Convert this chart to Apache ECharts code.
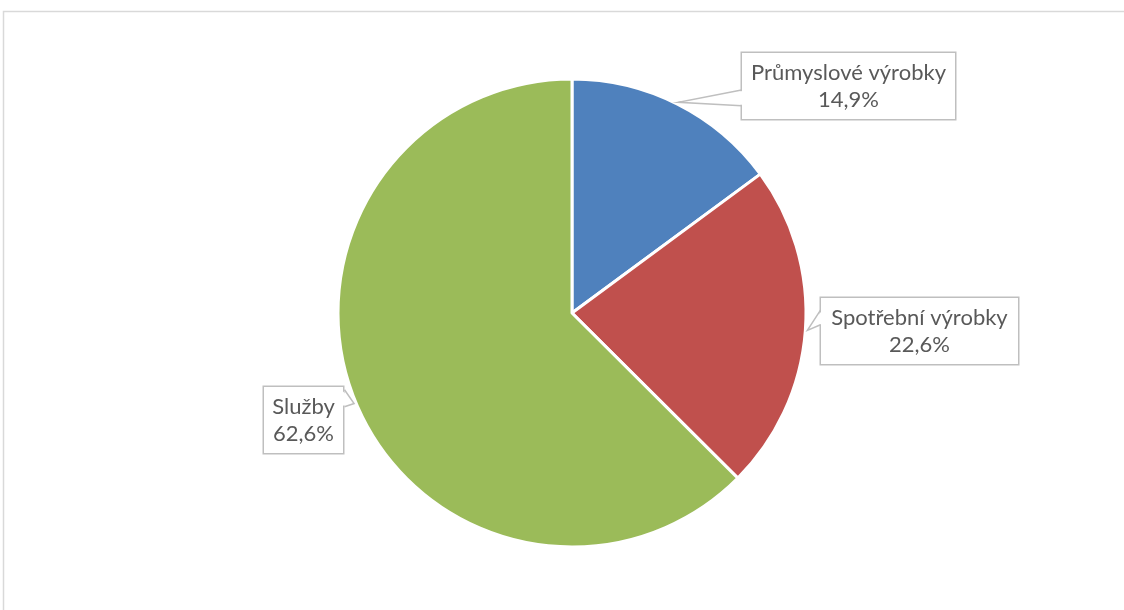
<!DOCTYPE html>
<html>
<head>
<meta charset="utf-8">
<script src="https://cdn.jsdelivr.net/npm/echarts@6/dist/echarts.min.js"></script>
<style>
  html, body { margin: 0; padding: 0; background: #fff; }
  #chart { width: 1124px; height: 610px; }
</style>
</head>
<body>
<div id="chart"></div>
<script>
// Shares of the three sectors (percent)
const categories = ['Průmyslové výrobky', 'Spotřební výrobky', 'Služby'];
const shares = [14.9, 22.6, 62.6];
const colors = ['#4F81BD', '#C0504D', '#9BBB59'];

// Pie geometry
const CX = 572, CY = 313, R = 234;

// Callout boxes: top-left corner, size, side carrying the pointer and
// where the pointer base sits along that side (fractions of box height)
const boxes = [
  { x: 741, y: 53,  w: 215, h: 66, side: 'left',  b0: 0.56, b1: 0.80 },
  { x: 820, y: 298, w: 199, h: 67, side: 'left',  b0: 0.18, b1: 0.40 },
  { x: 263, y: 387, w: 81,  h: 68, side: 'right', b0: 0.04, b1: 0.29 }
];

const LINE_H = 27;
const fmtPct = v => v.toFixed(1).replace('.', ',') + '%';

const total = shares.reduce((a, b) => a + b, 0);

// Pointer wedges: tip at the slice's mid-angle on the rim, base on the box side
const wedges = [];
let cum = 0;
shares.forEach((v, i) => {
  const mid = -Math.PI / 2 + 2 * Math.PI * (cum + v / 2) / total;
  cum += v;
  const tip = [CX + (R + 2) * Math.cos(mid), CY + (R + 2) * Math.sin(mid)];
  const b = boxes[i];
  const ex = b.side === 'left' ? b.x : b.x + b.w;
  const inset = b.side === 'left' ? 1.6 : -1.6;
  const y0 = b.y + b.h * b.b0, y1 = b.y + b.h * b.b1;
  // white fill hides the box border under the pointer base
  wedges.push({
    type: 'polygon',
    z: 100,
    silent: true,
    shape: { points: [[ex + inset, y0 + 1], tip, [ex + inset, y1 - 1]] },
    style: { fill: '#fff', stroke: null }
  });
  wedges.push({
    type: 'polyline',
    z: 101,
    silent: true,
    shape: { points: [[ex + 0.5, y0], tip, [ex + 0.5, y1]] },
    style: { stroke: '#BFBFBF', lineWidth: 1.5, fill: null }
  });
});

const seriesData = categories.map((name, i) => ({
  name,
  value: shares[i],
  itemStyle: { color: colors[i] },
  label: { width: boxes[i].w - 2 }
}));

const chart = echarts.init(document.getElementById('chart'), null, { renderer: 'canvas' });
chart.setOption({
  animation: false,
  backgroundColor: '#fff',
  graphic: [
    {
      type: 'rect',
      z: 0,
      silent: true,
      shape: { x: 3.5, y: 11.5, width: 1300, height: 800 },
      style: { fill: null, stroke: '#D9D9D9', lineWidth: 1.5 }
    },
    ...wedges
  ],
  series: [{
    type: 'pie',
    center: [CX, CY],
    radius: R,
    startAngle: 90,
    clockwise: true,
    avoidLabelOverlap: false,
    data: seriesData,
    itemStyle: { borderColor: '#fff', borderWidth: 3 },
    emphasis: { disabled: true },
    labelLine: { show: false },
    label: {
      show: true,
      position: 'outside',
      formatter: p => p.name + '\n' + fmtPct(p.value),
      fontFamily: 'Lato, "Open Sans", sans-serif',
      fontSize: 22,
      lineHeight: LINE_H,
      color: '#595959',
      align: 'center',
      backgroundColor: '#fff',
      borderColor: '#BFBFBF',
      borderWidth: 1.5,
      padding: [6, 0, 6, 0]
    },
    labelLayout: params => {
      const b = boxes[params.dataIndex];
      return { x: b.x + b.w / 2, y: b.y, align: 'center', verticalAlign: 'top' };
    }
  }]
});
</script>
</body>
</html>
